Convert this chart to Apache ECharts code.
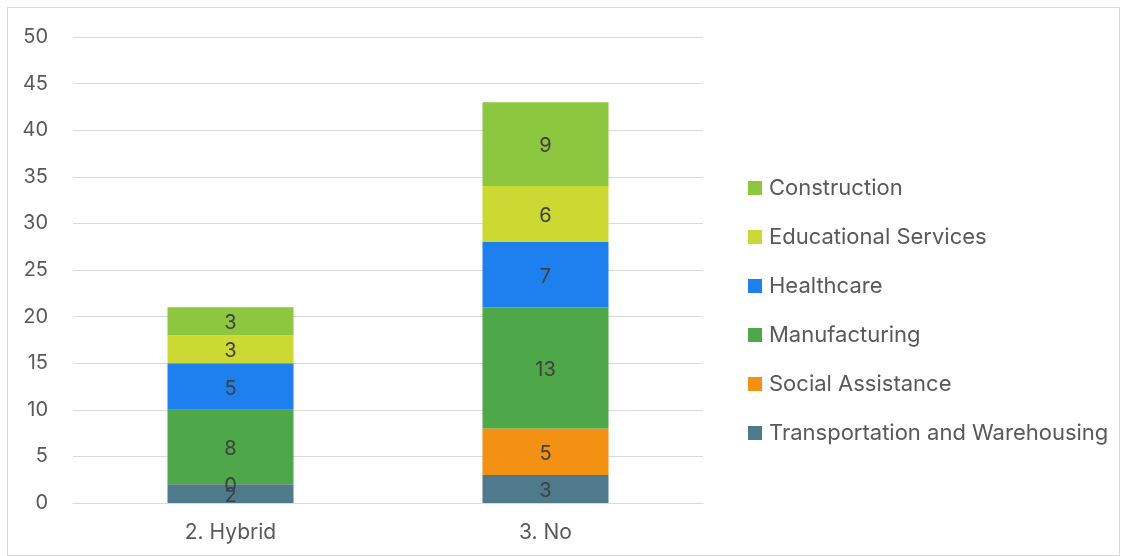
<!DOCTYPE html>
<html>
<head>
<meta charset="utf-8">
<script src="https://cdn.jsdelivr.net/npm/echarts@6/dist/echarts.min.js"></script>
<style>
  html, body { margin: 0; padding: 0; background: #fff; }
  #frame { position: absolute; left: 7px; top: 7px; width: 1113px; height: 549px; border: 1px solid #d9d9d9; box-sizing: border-box; }
  #chart { position: absolute; left: 0; top: 0; width: 1121px; height: 556px; }
</style>
</head>
<body>
<div id="frame"></div>
<div id="chart"></div>
<script>
// Categories on the x axis
const categories = ['2. Hybrid', '3. No'];

// Counts per industry for each category (stacked bottom to top)
const transportation = [2, 3];
const socialAssistance = [0, 5];
const manufacturing = [8, 13];
const healthcare = [5, 7];
const educational = [3, 6];
const construction = [3, 9];

const seriesDefs = [
  { name: 'Transportation and Warehousing', data: transportation, color: '#4E7A8C' },
  { name: 'Social Assistance', data: socialAssistance, color: '#F39112' },
  { name: 'Manufacturing', data: manufacturing, color: '#4EA84A' },
  { name: 'Healthcare', data: healthcare, color: '#1D80EE' },
  { name: 'Educational Services', data: educational, color: '#CCD932' },
  { name: 'Construction', data: construction, color: '#8DC63F' }
];

const font = 'Inter, "Open Sans", sans-serif';

const chart = echarts.init(document.getElementById('chart'), null, { renderer: 'canvas' });
chart.setOption({
  animation: false,
  textStyle: { fontFamily: font },
  grid: { left: 73, right: 418, top: 37, bottom: 53, containLabel: false },
  legend: {
    orient: 'vertical',
    left: 743,
    top: 172,
    itemWidth: 14,
    itemHeight: 14,
    itemGap: 27,
    icon: 'rect',
    data: seriesDefs.map(s => s.name).reverse(),
    textStyle: { fontFamily: font, fontSize: 22, color: '#595959', padding: [0, 0, 0, 2] }
  },
  xAxis: {
    type: 'category',
    data: categories,
    axisTick: { show: false },
    axisLine: { lineStyle: { color: '#d9d9d9', width: 1 } },
    axisLabel: { fontFamily: font, fontSize: 21, color: '#595959', margin: 19 }
  },
  yAxis: {
    type: 'value',
    min: 0,
    max: 50,
    interval: 5,
    axisLine: { show: false },
    axisTick: { show: false },
    splitLine: { lineStyle: { color: '#d9d9d9', width: 1 } },
    axisLabel: { fontFamily: font, fontSize: 20, color: '#595959', margin: 25 }
  },
  series: seriesDefs.map(s => ({
    name: s.name,
    type: 'bar',
    stack: 'total',
    barWidth: '40%',
    data: s.data,
    itemStyle: { color: s.color },
    label: {
      show: true,
      position: 'inside',
      offset: [0, 2],
      fontFamily: font,
      fontSize: 20,
      color: '#404040'
    }
  }))
});
</script>
</body>
</html>
